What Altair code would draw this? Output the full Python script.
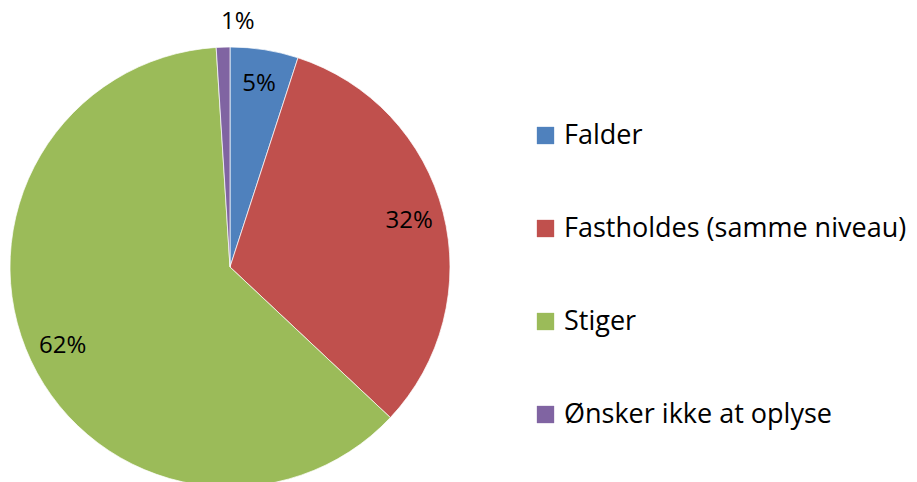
import altair as alt
import pandas as pd

categories = ["Falder", "Fastholdes (samme niveau)", "Stiger", "Ønsker ikke at oplyse"]
values = [5, 32, 62, 1]
colors = ["#4F81BD", "#C0504D", "#9BBB59", "#8064A2"]

df = pd.DataFrame({"kategori": categories, "andel": values, "ordre": list(range(len(categories)))})
df["label"] = df["andel"].astype(str) + "%"

FONT = "Open Sans"
CX, CY, R = 230, 267, 220

base = alt.Chart(df).encode(
    theta=alt.Theta("andel:Q", stack=True),
    order=alt.Order("ordre:Q"),
)

pie = base.mark_arc(radius=R, stroke="white", strokeWidth=0.7).encode(
    x=alt.value(CX),
    y=alt.value(CY),
    color=alt.Color(
        "kategori:N",
        scale=alt.Scale(domain=categories, range=colors),
        sort=categories,
        legend=alt.Legend(
            title=None,
            orient="none",
            legendX=532,
            legendY=122,
            symbolType="square",
            symbolSize=300,
            symbolStrokeWidth=0,
            labelFont=FONT,
            labelFontSize=27,
            labelColor="#000000",
            labelOffset=5,
            rowPadding=65,
            labelLimit=400,
            padding=0,
        ),
    ),
)

inside = base.transform_filter("datum.andel >= 3").mark_text(
    radius=185, font=FONT, fontSize=24, color="#000000"
).encode(x=alt.value(CX), y=alt.value(CY), text="label:N")

outside = base.transform_filter("datum.andel < 3").mark_text(
    radius=245, font=FONT, fontSize=24, color="#000000"
).encode(x=alt.value(CX), y=alt.value(CY), text="label:N")

chart = alt.layer(pie, inside, outside).properties(
    width=917, height=482, autosize=alt.AutoSizeParams(type="none"), padding=0
).configure_view(stroke=None)

chart.save("out.html", embed_options={"renderer": "svg", "actions": False})
